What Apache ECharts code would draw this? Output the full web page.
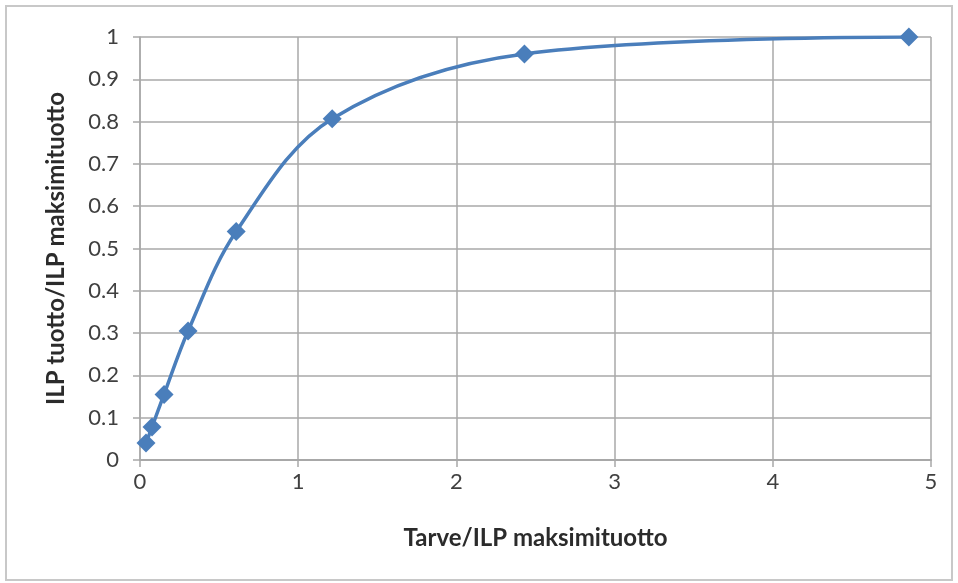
<!DOCTYPE html>
<html><head><meta charset="utf-8">
<script src="https://cdn.jsdelivr.net/npm/echarts@6/dist/echarts.min.js"></script>
<style>html,body{margin:0;padding:0;background:#fff}#c{width:958px;height:583px}</style>
</head><body><div id="c"></div>
<script>
const xValues = [0.038, 0.076, 0.152, 0.304, 0.608, 1.215, 2.43, 4.86];
const yValues = [0.04, 0.078, 0.155, 0.305, 0.54, 0.807, 0.96, 1.0];
const xAxisTitle = 'Tarve/ILP maksimituotto';
const yAxisTitle = 'ILP tuotto/ILP maksimituotto';

const chart = echarts.init(document.getElementById('c'), null, {renderer: 'canvas'});
const font = 'Lato, "Open Sans", sans-serif';
chart.setOption({
  animation: false,
  backgroundColor: '#fff',
  graphic: [{type: 'rect', shape: {x: 6, y: 6, width: 946, height: 574}, style: {fill: 'none', stroke: '#c8c8c8', lineWidth: 2}}],
  grid: {left: 140, right: 27, top: 37, bottom: 123},
  xAxis: {
    type: 'value', min: 0, max: 5, interval: 1,
    name: xAxisTitle, nameLocation: 'middle', nameGap: 66,
    nameTextStyle: {fontFamily: font, fontWeight: 'bold', fontSize: 24, color: '#2b2b2b'},
    axisLine: {show: true, lineStyle: {color: '#a8a8a8', width: 2}},
    axisTick: {show: true, length: 7, lineStyle: {color: '#a8a8a8', width: 1.5}},
    axisLabel: {fontFamily: font, fontSize: 22, color: '#404040', margin: 11},
    splitLine: {show: true, lineStyle: {color: '#a8a8a8', width: 1.5}}
  },
  yAxis: {
    type: 'value', min: 0, max: 1, interval: 0.1,
    name: yAxisTitle, nameLocation: 'middle', nameGap: 72, nameRotate: 90,
    nameTextStyle: {fontFamily: font, fontWeight: 'bold', fontSize: 24, color: '#2b2b2b'},
    axisLine: {show: true, lineStyle: {color: '#a8a8a8', width: 1.5}},
    axisTick: {show: true, length: 7, lineStyle: {color: '#a8a8a8', width: 1.5}},
    axisLabel: {fontFamily: font, fontSize: 22, color: '#404040', margin: 21,
      formatter: v => String(Math.round(v * 10) / 10)},
    splitLine: {show: true, lineStyle: {color: '#a8a8a8', width: 1.5}}
  },
  series: [{
    type: 'line', smooth: 0.35,
    data: xValues.map((x, i) => [x, yValues[i]]),
    symbol: 'diamond', symbolSize: 19,
    lineStyle: {color: '#4a7ebb', width: 3.5},
    itemStyle: {color: '#4a7ebb'}
  }]
});
</script></body></html>
